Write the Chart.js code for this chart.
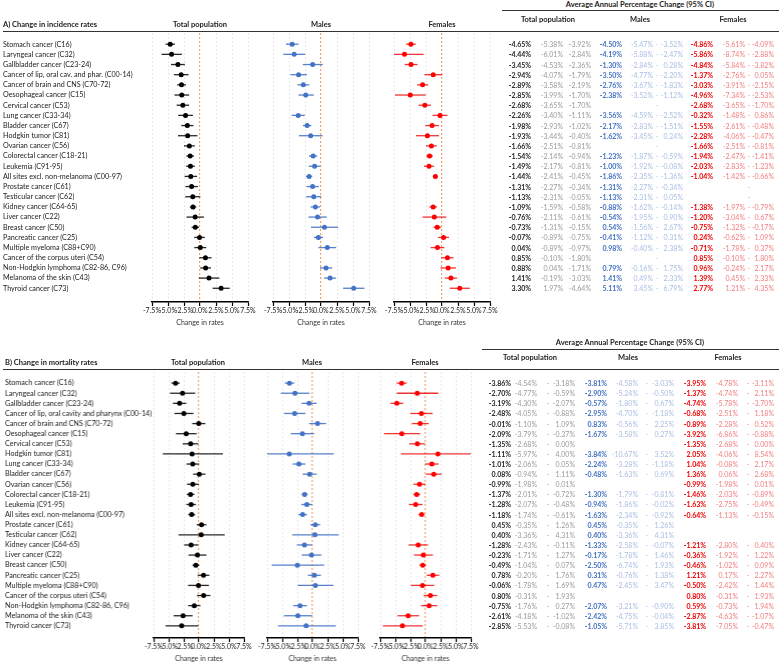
<!DOCTYPE html>
<html lang="en">
<head>
<meta charset="UTF-8" />
<title>Change in cancer incidence and mortality rates</title>
<script src="https://cdn.jsdelivr.net/npm/chart.js"></script>
<style>
  body { margin: 0; background: #fff; font-family: Lato, "Liberation Sans", sans-serif; }
  #page { position: relative; width: 779px; height: 665px; overflow: hidden; background: #fff; }
  #page canvas { position: absolute; }
  .t { position: absolute; white-space: nowrap; font-size: 7px; line-height: 1; color: #222; }
  .b { font-weight: bold; }
  .h { font-weight: bold; font-size: 7.5px; }
  .rule { position: absolute; height: 0; border-top: 1.4px solid #333; }
</style>
</head>
<body>
<div id="page"></div>
<script>
// ---- data: [estimate, lower 95% CI, upper 95% CI], null = not applicable ----
const incLabels = [
  "Stomach cancer (C16)", "Laryngeal cancer (C32)", "Gallbladder cancer (C23-24)",
  "Cancer of lip, oral cav. and phar. (C00-14)", "Cancer of brain and CNS (C70-72)",
  "Oesophageal cancer (C15)", "Cervical cancer (C53)", "Lung cancer (C33-34)",
  "Bladder cancer (C67)", "Hodgkin tumor (C81)", "Ovarian cancer (C56)",
  "Colorectal cancer (C18-21)", "Leukemia (C91-95)", "All sites excl. non-melanoma (C00-97)",
  "Prostate cancer (C61)", "Testicular cancer (C62)", "Kidney cancer (C64-65)",
  "Liver cancer (C22)", "Breast cancer (C50)", "Pancreatic cancer (C25)",
  "Multiple myeloma (C88+C90)", "Cancer of the corpus uteri (C54)",
  "Non-Hodgkin lymphoma (C82-86, C96)", "Melanoma of the skin (C43)", "Thyroid cancer (C73)"
];
const incTotal = [
  [-4.65, -5.38, -3.92], [-4.44, -6.01, -2.84], [-3.45, -4.53, -2.36], [-2.94, -4.07, -1.79],
  [-2.89, -3.58, -2.19], [-2.85, -3.99, -1.70], [-2.68, -3.65, -1.70], [-2.26, -3.40, -1.11],
  [-1.98, -2.93, -1.02], [-1.93, -3.44, -0.40], [-1.66, -2.51, -0.81], [-1.54, -2.14, -0.94],
  [-1.49, -2.17, -0.81], [-1.44, -2.41, -0.45], [-1.31, -2.27, -0.34], [-1.13, -2.31, 0.05],
  [-1.09, -1.59, -0.58], [-0.76, -2.11, 0.61], [-0.73, -1.31, -0.15], [-0.07, -0.89, 0.75],
  [0.04, -0.89, 0.97], [0.85, -0.10, 1.80], [0.88, 0.04, 1.71], [1.41, -0.19, 3.03],
  [3.30, 1.97, 4.64]
];
const incMales = [
  [-4.50, -5.47, -3.52], [-4.19, -5.88, -2.47], [-1.30, -2.84, 0.28], [-3.50, -4.77, -2.20],
  [-2.76, -3.67, -1.83], [-2.38, -3.52, -1.12], null, [-3.56, -4.59, -2.52],
  [-2.17, -2.83, -1.51], [-1.62, -3.45, 0.24], null, [-1.23, -1.87, -0.59],
  [-1.00, -1.92, -0.08], [-1.86, -2.35, -1.36], [-1.31, -2.27, -0.34], [-1.13, -2.31, 0.05],
  [-0.88, -1.62, -0.14], [-0.54, -1.95, 0.90], [0.54, -1.56, 2.67], [-0.41, -1.12, 0.31],
  [0.98, -0.40, 2.38], null, [0.79, -0.16, 1.75], [1.41, 0.49, 2.33],
  [5.11, 3.45, 6.79]
];
const incFemales = [
  [-4.86, -5.61, -4.09], [-5.86, -8.74, -2.88], [-4.84, -5.84, -3.82], [-1.37, -2.76, 0.05],
  [-3.03, -3.91, -2.15], [-4.96, -7.34, -2.53], [-2.68, -3.65, -1.70], [-0.32, -1.48, 0.86],
  [-1.55, -2.61, -0.48], [-2.28, -4.06, -0.47], [-1.66, -2.51, -0.81], [-1.94, -2.47, -1.41],
  [-2.03, -2.83, -1.23], [-1.04, -1.42, -0.66], null, null,
  [-1.38, -1.97, -0.79], [-1.20, -3.04, 0.67], [-0.75, -1.32, -0.17], [0.24, -0.62, 1.09],
  [-0.71, -1.78, 0.37], [0.85, -0.10, 1.80], [0.96, -0.24, 2.17], [1.39, 0.45, 2.33],
  [2.77, 1.21, 4.35]
];

const morLabels = [
  "Stomach cancer (C16)", "Laryngeal cancer (C32)", "Gallbladder cancer (C23-24)",
  "Cancer of lip, oral cavity and pharynx (C00-14)", "Cancer of brain and CNS (C70-72)",
  "Oesophageal cancer (C15)", "Cervical cancer (C53)", "Hodgkin tumor (C81)",
  "Lung cancer (C33-34)", "Bladder cancer (C67)", "Ovarian cancer (C56)",
  "Colorectal cancer (C18-21)", "Leukemia (C91-95)", "All sites excl. non-melanoma (C00-97)",
  "Prostate cancer (C61)", "Testicular cancer (C62)", "Kidney cancer (C64-65)",
  "Liver cancer (C22)", "Breast cancer (C50)", "Pancreatic cancer (C25)",
  "Multiple myeloma (C88+C90)", "Cancer of the corpus uteri (C54)",
  "Non-Hodgkin lymphoma (C82-86, C96)", "Melanoma of the skin (C43)", "Thyroid cancer (C73)"
];
const morTotal = [
  [-3.86, -4.54, -3.18], [-2.70, -4.77, -0.59], [-3.19, -4.30, -2.07], [-2.48, -4.05, -0.88],
  [-0.01, -1.10, 1.09], [-2.09, -3.79, -0.37], [-1.35, -2.68, 0.00], [-1.11, -5.97, 4.00],
  [-1.01, -2.06, 0.05], [0.08, -0.94, 1.11], [-0.99, -1.98, 0.01], [-1.37, -2.01, -0.72],
  [-1.28, -2.07, -0.48], [-1.18, -1.74, -0.61], [0.45, -0.35, 1.26], [0.40, -3.36, 4.31],
  [-1.28, -2.43, -0.11], [-0.23, -1.71, 1.27], [-0.49, -1.04, 0.07], [0.78, -0.20, 1.76],
  [-0.06, -1.78, 1.69], [0.80, -0.31, 1.93], [-0.75, -1.76, 0.27], [-2.61, -4.18, -1.02],
  [-2.85, -5.53, -0.08]
];
const morMales = [
  [-3.81, -4.58, -3.03], [-2.90, -5.24, -0.50], [-0.57, -1.80, 0.67], [-2.95, -4.70, -1.18],
  [0.83, -0.56, 2.25], [-1.67, -3.58, 0.27], null, [-3.84, -10.67, 3.52],
  [-2.24, -3.28, -1.18], [-0.48, -1.63, 0.69], null, [-1.30, -1.79, -0.81],
  [-0.94, -1.86, -0.02], [-1.63, -2.34, -0.92], [0.45, -0.35, 1.26], [0.40, -3.36, 4.31],
  [-1.33, -2.58, -0.07], [-0.17, -1.78, 1.46], [-2.50, -6.74, 1.93], [0.31, -0.76, 1.38],
  [0.47, -2.45, 3.47], null, [-2.07, -3.21, -0.90], [-2.42, -4.75, -0.04],
  [-1.05, -5.71, 3.85]
];
const morFemales = [
  [-3.95, -4.78, -3.11], [-1.37, -4.74, 2.11], [-4.74, -5.78, -3.70], [-0.68, -2.51, 1.18],
  [-0.89, -2.28, 0.52], [-3.92, -6.86, -0.88], [-1.35, -2.68, 0.00], [2.05, -4.06, 8.54],
  [1.04, -0.08, 2.17], [1.36, 0.06, 2.68], [-0.99, -1.98, 0.01], [-1.46, -2.03, -0.89],
  [-1.63, -2.75, -0.49], [-0.64, -1.13, -0.15], null, null,
  [-1.21, -2.80, 0.40], [-0.36, -1.92, 1.22], [-0.46, -1.02, 0.09], [1.21, 0.17, 2.27],
  [-0.50, -2.42, 1.44], [0.80, -0.31, 1.93], [0.59, -0.73, 1.94], [-2.87, -4.63, -1.07],
  [-3.81, -7.05, -0.47]
];
const xTicks = [-7.5, -5.0, -2.5, 0.0, 2.5, 5.0, 7.5];

// ---- styling ----
Chart.defaults.font.family = "Lato, 'Liberation Sans', sans-serif";
Chart.defaults.color = "#222";

const groups = {
  total:   { dot: "#000000", bar: "rgba(0,0,0,0.85)",       main: "#262626", ci: "#9a9a9a" },
  males:   { dot: "#4472c4", bar: "rgba(68,114,196,0.9)",   main: "#4472c4", ci: "#aabde2" },
  females: { dot: "#ff0000", bar: "rgba(235,0,0,0.8)",      main: "#ee0000", ci: "#f27d7f" }
};

const page = document.getElementById("page");

function text(s, x, y, cls, color, align) {
  const d = document.createElement("div");
  d.className = "t " + (cls || "");
  d.textContent = s;
  d.style.left = x + "px";
  d.style.top = y + "px";
  const tx = align === "right" ? "-100%" : align === "center" ? "-50%" : "0";
  d.style.transform = "translate(" + tx + ", -50%)";
  if (color) d.style.color = color;
  page.appendChild(d);
}

function rule(x1, x2, y) {
  const d = document.createElement("div");
  d.className = "rule";
  d.style.left = x1 + "px";
  d.style.width = (x2 - x1) + "px";
  d.style.top = y + "px";
  page.appendChild(d);
}

const pct = v => v.toFixed(2) + "%";

// one forest plot: box = chart area left/right in page px
function forest(panel, rows, g, box, labels) {
  const pad = 16;
  const left = labels ? 0 : box.l - pad;
  const width = box.r + pad - left;
  const top = panel.top - 10;
  const height = panel.axis - panel.top + 10 + 28;

  const cv = document.createElement("canvas");
  cv.width = width; cv.height = height;
  cv.style.left = left + "px"; cv.style.top = top + "px";
  cv.style.width = width + "px"; cv.style.height = height + "px";
  page.appendChild(cv);

  const bars = [], pts = [];
  rows.forEach((r, i) => {
    if (!r) return;
    bars.push({ x: [r[1], r[2]], y: i });
    pts.push({ x: r[0], y: i });
  });

  const chart = new Chart(cv, {
    type: "bar",
    data: {
      datasets: [
        { type: "scatter", data: pts, backgroundColor: g.dot, borderWidth: 0,
          pointRadius: 2.5, pointStyle: "circle", order: 0, clip: 0 },
        { data: bars, backgroundColor: g.bar, barThickness: 1.3, borderWidth: 0,
          inflateAmount: 0, order: 1, clip: 0 }
      ]
    },
    options: {
      indexAxis: "y",
      responsive: false,
      animation: false,
      devicePixelRatio: 1,
      layout: { padding: { left: labels ? panel.labelX : pad, right: pad, top: 10, bottom: 0 } },
      plugins: { legend: { display: false }, tooltip: { enabled: false } },
      scales: {
        x: {
          type: "linear", min: -7.5, max: 7.5,
          afterBuildTicks: s => { s.ticks = xTicks.map(v => ({ value: v })); },
          afterFit: s => { s.height = 28; },
          ticks: { autoSkip: false, maxRotation: 0, padding: 1, color: "#222",
                   font: { size: 7 }, callback: v => v.toFixed(1) + "%" },
          grid: {
            color: c => (c.tick && c.tick.value === 0) ? "#f2a46a" : "#e2e2e2",
            lineWidth: c => (c.tick && c.tick.value === 0) ? 1.2 : 0.8,
            tickColor: "#000", tickLength: 4, tickWidth: 1.2
          },
          border: { color: "#000", width: 1.5, dash: [2, 2] },
          title: { display: true, text: "Change in rates", color: "#333",
                   font: { size: 7 }, padding: { top: 0, bottom: 3 } }
        },
        y: {
          type: "linear", reverse: true, min: -1.1, max: panel.yMax,
          offset: false,
          display: !!labels,
          afterBuildTicks: s => { s.ticks = (labels || []).map((_, i) => ({ value: i })); },
          afterFit: s => { if (labels) s.width = box.l - panel.labelX; },
          ticks: { autoSkip: false, crossAlign: "far", padding: 0, color: "#222",
                   font: { size: 7.2 }, callback: v => labels ? labels[v] : "" },
          grid: { display: false, offset: false },
          border: { display: false }
        }
      }
    }
  });
  return { chart, top };
}

function table(ref, cols, sets, missingDash) {
  sets.forEach((s, k) => {
    const c = cols[k];
    s.rows.forEach((r, i) => {
      const y = ref.top + ref.chart.scales.y.getPixelForValue(i);
      if (!r) {
        if (missingDash) text("-", c[2], y, "", s.g.ci, "center");
        return;
      }
      text(pct(r[0]), c[0], y, "b", s.g.main, "right");
      text(pct(r[1]), c[1], y, "", s.g.ci, "right");
      text("-", c[2], y, "", s.g.ci, "center");
      text(pct(r[2]), c[3], y, "", s.g.ci, "right");
    });
  });
}

// ---- panel A: incidence ----
const panelA = { top: 33, axis: 302, yMax: 25.35, labelX: 3 };
const aT = forest(panelA, incTotal, groups.total, { l: 152, r: 248 }, incLabels);
forest(panelA, incMales, groups.males, { l: 273, r: 369 });
forest(panelA, incFemales, groups.females, { l: 394, r: 490 });

text("A) Change in incidence rates", 3, 25, "h", "#222");
text("Total population", 200, 25, "h", "#222", "center");
text("Males", 321, 25, "h", "#222", "center");
text("Females", 442, 25, "h", "#222", "center");
text("Average Annual Percentage Change (95% CI)", 640, 5, "h", "#222", "center");
text("Total population", 548, 20, "h", "#222", "center");
text("Males", 640, 20, "h", "#222", "center");
text("Females", 733, 20, "h", "#222", "center");
rule(502, 779, 10);
rule(3, 779, 30.5);

table(aT, [[531, 563, 570, 591], [622, 653, 657, 683], [713, 745, 749, 774]], [
  { rows: incTotal, g: groups.total },
  { rows: incMales, g: groups.males },
  { rows: incFemales, g: groups.females }
], true);

// ---- panel B: mortality ----
const panelB = { top: 372, axis: 638, yMax: 25.2, labelX: 5 };
const bT = forest(panelB, morTotal, groups.total, { l: 153, r: 243.5 }, morLabels);
forest(panelB, morMales, groups.males, { l: 267, r: 357.5 });
forest(panelB, morFemales, groups.females, { l: 380, r: 470.5 });

text("B) Change in mortality rates", 5, 363, "h", "#222");
text("Total population", 198, 363, "h", "#222", "center");
text("Males", 312, 363, "h", "#222", "center");
text("Females", 425, 363, "h", "#222", "center");
text("Average Annual Percentage Change (95% CI)", 630, 343, "h", "#222", "center");
text("Total population", 530, 358, "h", "#222", "center");
text("Males", 628, 358, "h", "#222", "center");
text("Females", 728, 358, "h", "#222", "center");
rule(482, 779, 349);
rule(3, 779, 369);

table(bT, [[511, 537, 548, 575], [607, 638, 647, 674], [706, 738, 748, 774]], [
  { rows: morTotal, g: groups.total },
  { rows: morMales, g: groups.males },
  { rows: morFemales, g: groups.females }
], false);
</script>
</body>
</html>
